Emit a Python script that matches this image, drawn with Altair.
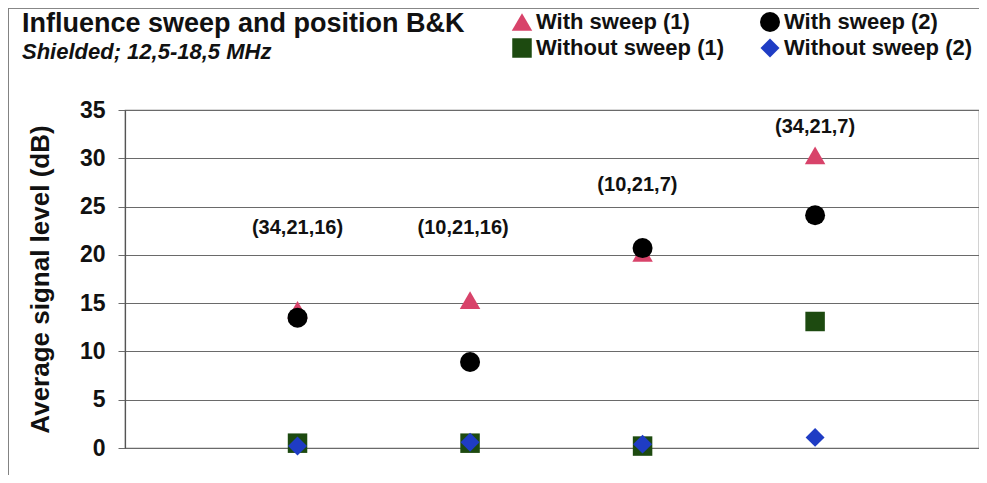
import altair as alt
import pandas as pd

positions = [1, 2, 3, 4]
series = ["With sweep (1)", "With sweep (2)", "Without sweep (1)", "Without sweep (2)"]
with_sweep_1 = [14.3, 15.3, 20.2, 30.3]
with_sweep_2 = [13.5, 8.9, 20.7, 24.1]
without_sweep_1 = [0.5, 0.5, 0.2, 13.1]
without_sweep_2 = [0.2, 0.6, 0.4, 1.1]
draw_rank = [0, 2, 1, 3]  # triangles, squares, circles, diamonds

label_texts = ["(34,21,16)", "(10,21,16)", "(10,21,7)", "(34,21,7)"]
label_x = [1.0, 1.96, 2.97, 4.0]
label_y = [22.8, 22.8, 27.2, 33.2]

rows = []
for name, vals, rank in zip(series, [with_sweep_1, with_sweep_2, without_sweep_1, without_sweep_2],
                            draw_rank):
    for p, v in zip(positions, vals):
        rows.append({"pos": p, "value": v, "series": name, "rank": rank})
df = pd.DataFrame(rows)
labels = pd.DataFrame({"pos": label_x, "value": label_y, "text": label_texts})

FONT = "Liberation Sans"

xscale = alt.Scale(domain=[0, 4.95], nice=False, zero=False)
yscale = alt.Scale(domain=[0, 35], nice=False)

points = alt.Chart(df).mark_point(filled=True, opacity=1).encode(
    x=alt.X("pos:Q", scale=xscale, axis=None),
    y=alt.Y("value:Q", scale=yscale,
            axis=alt.Axis(values=[0, 5, 10, 15, 20, 25, 30, 35],
                          title="Average signal level (dB)",
                          grid=True, gridColor="#6a6a6a", gridWidth=1.2,
                          domain=True, domainColor="#555555", domainWidth=1.2,
                          ticks=True, tickSize=7, tickColor="#6a6a6a",
                          labelFont=FONT, labelFontSize=23, labelFontWeight="bold",
                          labelColor="#111111", labelPadding=13,
                          titleFont=FONT, titleFontSize=26, titleFontWeight="bold",
                          titleColor="#111111", titleX=-85, titleY=169,
                          titleAngle=270, titleAlign="center", titleBaseline="middle")),
    shape=alt.Shape("series:N", scale=alt.Scale(domain=series,
                    range=["triangle-up", "circle", "square", "diamond"])),
    color=alt.Color("series:N", scale=alt.Scale(domain=series,
                    range=["#d8436a", "#000000", "#1d4a10", "#1f3cc4"]),
                    legend=alt.Legend(title=None, orient="none", legendX=386, legendY=-99,
                                      direction="horizontal",
                                      columns=2, columnPadding=34, rowPadding=4,
                                      labelFont=FONT, labelFontSize=22, labelFontWeight="bold",
                                      labelColor="#111111", symbolSize=260, labelOffset=3,
                                      labelLimit=400, padding=0)),
    size=alt.Size("series:N", scale=alt.Scale(domain=series, range=[420, 360, 260, 220]),
                  legend=None),
    order=alt.Order("rank:Q"),
)

texts = alt.Chart(labels).mark_text(font=FONT, fontSize=20, fontWeight="bold",
                                    color="#111111").encode(
    x=alt.X("pos:Q", scale=xscale),
    y=alt.Y("value:Q", scale=yscale),
    text="text:N",
)

frame_top = alt.Chart(labels).mark_rule(color="#808080", strokeWidth=1.2).encode(
    x=alt.value(-117), x2=alt.value(860), y=alt.value(-102))
frame_left = alt.Chart(labels).mark_rule(color="#808080", strokeWidth=1.2).encode(
    x=alt.value(-117), y=alt.value(-102), y2=alt.value(370))

chart = alt.layer(frame_top, frame_left, points, texts).properties(
    width=854, height=338,
    autosize=alt.AutoSizeParams(type="none"),
    padding={"left": 117, "top": 102, "right": 0, "bottom": 27},
    title=alt.Title("Influence sweep and position B&K",
                    subtitle="Shielded; 12,5-18,5 MHz",
                    anchor="start", frame="group", dx=-103, offset=0, dy=57,
                    font=FONT, fontSize=27, fontWeight="bold", color="#111111",
                    subtitleFont=FONT, subtitleFontSize=22, subtitleFontWeight="bold",
                    subtitleFontStyle="italic", subtitleColor="#111111", subtitlePadding=4),
).configure_view(stroke="#6a6a6a", strokeWidth=1.2)

chart.save("out.html", embed_options={"renderer": "svg", "actions": False})
